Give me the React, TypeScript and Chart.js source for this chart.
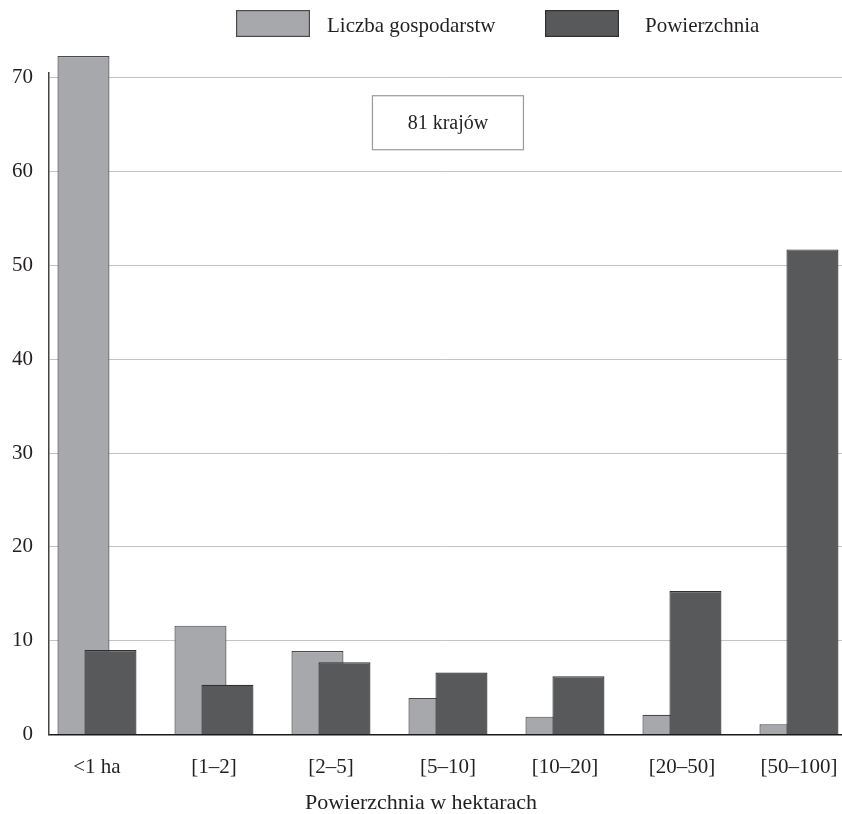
import { useEffect, useRef } from "react";
import { Chart, registerables } from "chart.js";

Chart.register(...registerables);

// ---- data ----
const categories = ["<1 ha", "[1–2]", "[2–5]", "[5–10]", "[10–20]", "[20–50]", "[50–100]"];
const farmsShare = [72.3, 11.6, 8.9, 3.9, 1.9, 2.1, 1.1];
const areaShare = [9.0, 5.3, 7.7, 6.6, 6.2, 15.3, 51.7];
const seriesLabels = ["Liczba gospodarstw", "Powierzchnia"];
const yTicks = [0, 10, 20, 30, 40, 50, 60, 70];
const axisTitle = "Powierzchnia w hektarach";
const noteText = "81 krajów";
const noteX = 3;
const noteY = 65.2;

const FONT = '"Liberation Serif", "Times New Roman", serif';
const TEXT = "#231f20";
const fills = ["#a7a8ab", "#58595b"];
const borders = ["#4a4a4c", "#303032"];

export default function App() {
  const ref = useRef<HTMLCanvasElement>(null);

  useEffect(() => {
    const canvas = ref.current;
    if (!canvas) return;

    const drawOrder = {
      id: "drawOrder",
      beforeDatasetsDraw(chart: any) {
        chart.data.datasets.forEach((_: any, i: number) => {
          const meta = chart.getDatasetMeta(i);
          if (!meta.hidden) meta.controller.draw();
        });
        return false;
      },
    };

    const legendAndNote = {
      id: "legendAndNote",
      afterDraw(chart: any) {
        const ctx = chart.ctx as CanvasRenderingContext2D;
        ctx.save();
        const itemX = [236, 545];
        const textGap = [17, 26];
        const boxW = 74;
        const boxH = 27;
        const boxTop = 10;
        chart.data.datasets.forEach((ds: any, i: number) => {
          ctx.fillStyle = ds.backgroundColor;
          ctx.fillRect(itemX[i], boxTop, boxW, boxH);
          ctx.strokeStyle = ds.borderColor;
          ctx.lineWidth = 1.2;
          ctx.strokeRect(itemX[i] + 0.6, boxTop + 0.6, boxW - 1.2, boxH - 1.2);
          ctx.fillStyle = TEXT;
          ctx.font = `21px ${FONT}`;
          ctx.textAlign = "left";
          ctx.textBaseline = "alphabetic";
          ctx.fillText(ds.label, itemX[i] + boxW + textGap[i], 31.5);
        });

        const cx = chart.scales.x.getPixelForValue(noteX);
        const cy = chart.scales.y.getPixelForValue(noteY);
        const w = 151;
        const h = 54;
        ctx.fillStyle = "#ffffff";
        ctx.fillRect(cx - w / 2, cy - h / 2, w, h);
        ctx.strokeStyle = "#9a9a9a";
        ctx.lineWidth = 1.2;
        ctx.strokeRect(cx - w / 2, cy - h / 2, w, h);
        ctx.fillStyle = TEXT;
        ctx.font = `20px ${FONT}`;
        ctx.textAlign = "center";
        ctx.textBaseline = "middle";
        ctx.fillText(noteText, cx, cy + 1);
        ctx.restore();
      },
    };

    const chart = new Chart(canvas, {
      type: "bar",
      data: {
        datasets: [
          {
            label: seriesLabels[0],
            data: farmsShare.map((v, i) => ({ x: i, y: v })),
            backgroundColor: fills[0],
            borderColor: borders[0],
            borderWidth: 1.2,
          },
          {
            label: seriesLabels[1],
            data: areaShare.map((v, i) => ({ x: i, y: v })),
            backgroundColor: fills[1],
            borderColor: borders[1],
            borderWidth: 1.2,
          },
        ],
      } as any,
      options: {
        animation: false,
        responsive: false,
        devicePixelRatio: 1,
        events: [],
        datasets: {
          bar: { categoryPercentage: 0.4615, barPercentage: 1.926 },
        },
        layout: { padding: { top: 73, left: 0, right: 0, bottom: 0 } },
        plugins: {
          legend: { display: false },
          tooltip: { enabled: false },
          title: {
            display: true,
            position: "bottom",
            text: axisTitle,
            color: TEXT,
            font: { family: FONT, size: 22, weight: "normal", lineHeight: 1 },
            padding: { top: 0, bottom: 0 },
          },
        },
        scales: {
          x: {
            type: "linear",
            bounds: "data",
            offset: false,
            min: -0.41,
            max: 6.368,
            grid: { display: false, offset: false },
            border: { display: true, color: "#1a1a1a", width: 1.5 },
            afterBuildTicks: (s: any) => {
              s.ticks = categories.map((_, i) => ({ value: i }));
            },
            afterFit: (s: any) => {
              s.height = 57.5;
              s.paddingLeft = 0;
              s.paddingRight = 0;
            },
            ticks: {
              autoSkip: false,
              includeBounds: false,
              maxRotation: 0,
              padding: 12,
              color: TEXT,
              font: { family: FONT, size: 21 },
              callback: (v: any) => categories[v] ?? "",
            },
          },
          y: {
            type: "linear",
            bounds: "data",
            min: 0,
            max: 70.5,
            grid: {
              drawTicks: false,
              lineWidth: 1,
              color: (c: any) => (c.tick && c.tick.value === 0 ? "rgba(0,0,0,0)" : "#c4c4c4"),
            },
            border: { display: true, color: "#444444", width: 1.5 },
            afterBuildTicks: (s: any) => {
              s.ticks = yTicks.map((v) => ({ value: v }));
            },
            afterFit: (s: any) => {
              s.width = 49;
              s.paddingTop = 0;
              s.paddingBottom = 0;
            },
            ticks: {
              includeBounds: false,
              padding: 16,
              color: TEXT,
              font: { family: FONT, size: 21 },
            },
          },
        },
      } as any,
      plugins: [drawOrder, legendAndNote],
    });

    return () => chart.destroy();
  }, []);

  return (
    <div style={{ position: "absolute", left: 0, top: 0, width: 842, height: 814, background: "#fff" }}>
      <canvas ref={ref} width={842} height={814} style={{ display: "block" }} />
    </div>
  );
}
